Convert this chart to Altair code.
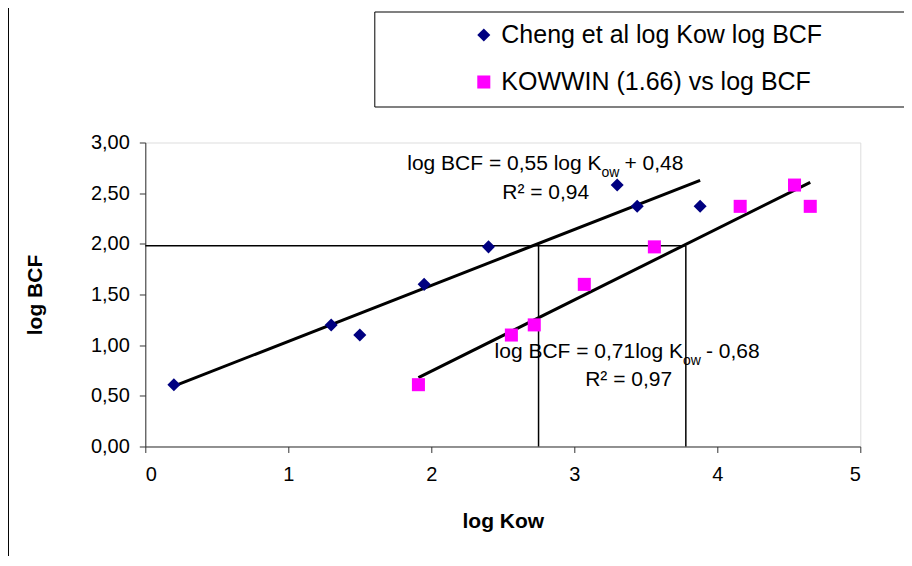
import altair as alt
import pandas as pd

# ---- data ----
series_names = ["Cheng et al log Kow log BCF", "KOWWIN (1.66) vs log BCF"]
series_colors = ["#000080", "#FF00FF"]
series_shapes = ["diamond", "square"]

cheng_kow = [0.20, 1.30, 1.50, 1.95, 2.40, 3.30, 3.44, 3.88]
cheng_bcf = [0.61, 1.20, 1.10, 1.60, 1.97, 2.58, 2.37, 2.37]
kowwin_kow = [1.91, 2.56, 2.72, 3.07, 3.56, 4.16, 4.54, 4.65]
kowwin_bcf = [0.61, 1.10, 1.20, 1.60, 1.97, 2.37, 2.58, 2.37]

guide_bcf = 1.98
guide_kow = [2.75, 3.78]

x_ticks = [0, 1, 2, 3, 4, 5]
y_ticks = [0, 0.5, 1.0, 1.5, 2.0, 2.5, 3.0]

eq_main = ["log BCF = 0,55 log K", "log BCF = 0,71log K"]
eq_tail = ["+ 0,48", "- 0,68"]
eq_r2 = ["R\u00b2 = 0,94", "R\u00b2 = 0,97"]
eq_anchor_kow = [3.19, 3.76]
eq_anchor_bcf = [2.79, 0.935]
r2_kow = [2.80, 3.38]
r2_bcf = [2.50, 0.655]

FONT = "Liberation Sans"

pts = pd.DataFrame({
    "kow": cheng_kow + kowwin_kow,
    "bcf": cheng_bcf + kowwin_bcf,
    "series": [series_names[0]] * len(cheng_kow) + [series_names[1]] * len(kowwin_kow),
})

xscale = alt.Scale(domain=[0, 5], nice=False, zero=False)
yscale = alt.Scale(domain=[0, 3], nice=False, zero=False)

x_axis = alt.Axis(values=x_ticks, format="d", grid=False, title="log Kow", titleFont=FONT,
                  titleFontSize=21, titleFontWeight="bold", titlePadding=26,
                  labelFont=FONT, labelFontSize=20, labelPadding=12,
                  tickSize=6, domainColor="#333333", tickColor="#333333",
                  labelColor="black", titleColor="black")
y_axis = alt.Axis(values=y_ticks, grid=False, title="log BCF", titleFont=FONT,
                  titleFontSize=21, titleFontWeight="bold", titlePadding=45,
                  labelFont=FONT, labelFontSize=20, labelPadding=10,
                  labelExpr="replace(format(datum.value, '.2f'), '.', ',')",
                  tickSize=6, domainColor="#333333", tickColor="#333333",
                  labelColor="black", titleColor="black")

legend = alt.Legend(title=None, orient="none", legendX=326, legendY=-120,
                    labelFont=FONT, labelFontSize=25, labelColor="black", labelLimit=600,
                    symbolSize=170, symbolStrokeWidth=0, rowPadding=21,
                    labelOffset=5, padding=0)

points = alt.Chart(pts).mark_point(filled=True, size=170, opacity=1).encode(
    x=alt.X("kow:Q", scale=xscale, axis=x_axis),
    y=alt.Y("bcf:Q", scale=yscale, axis=y_axis),
    color=alt.Color("series:N", scale=alt.Scale(domain=series_names, range=series_colors), legend=legend),
    shape=alt.Shape("series:N", scale=alt.Scale(domain=series_names, range=series_shapes), legend=legend),
)

fits = alt.Chart(pts).transform_regression(
    "kow", "bcf", groupby=["series"]
).mark_line(color="black", strokeWidth=3).encode(
    x="kow:Q", y="bcf:Q", detail="series:N"
)

hguide = alt.Chart(pd.DataFrame({"x": [0], "x2": [guide_kow[1]], "y": [guide_bcf]})).mark_rule(
    color="black", strokeWidth=1.5).encode(x="x:Q", x2="x2:Q", y="y:Q")
vguide = alt.Chart(pd.DataFrame({"x": guide_kow, "y": [0, 0], "y2": [guide_bcf, guide_bcf]})).mark_rule(
    color="black", strokeWidth=1.5).encode(x="x:Q", y="y:Q", y2="y2:Q")

eq = pd.DataFrame({"kow": eq_anchor_kow, "bcf": eq_anchor_bcf, "main": eq_main, "tail": eq_tail})
eq_main_t = alt.Chart(eq).mark_text(font=FONT, fontSize=21, align="right", baseline="middle").encode(
    x="kow:Q", y="bcf:Q", text="main:N")
eq_sub_t = alt.Chart(eq).mark_text(font=FONT, fontSize=14, align="left", baseline="middle", dy=9, dx=0).encode(
    x="kow:Q", y="bcf:Q", text=alt.value("ow"))
eq_tail_t = alt.Chart(eq).mark_text(font=FONT, fontSize=21, align="left", baseline="middle", dx=23).encode(
    x="kow:Q", y="bcf:Q", text="tail:N")
r2 = pd.DataFrame({"kow": r2_kow, "bcf": r2_bcf, "t": eq_r2})
r2_t = alt.Chart(r2).mark_text(font=FONT, fontSize=21, align="center", baseline="middle").encode(
    x="kow:Q", y="bcf:Q", text="t:N")

legend_box = alt.Chart(pd.DataFrame({"k": [0]})).mark_rect(
    fillOpacity=0, stroke="black", strokeWidth=1).encode(
    x=alt.value(229.5), x2=alt.value(900), y=alt.value(-130.5), y2=alt.value(-35.5))
frame_left = alt.Chart(pd.DataFrame({"k": [0]})).mark_rule(color="black", strokeWidth=1).encode(
    x=alt.value(-136.8), y=alt.value(-140), y2=alt.value(420))

chart = alt.layer(legend_box, frame_left, hguide, vguide, fits, points,
                  eq_main_t, eq_sub_t, eq_tail_t, r2_t).properties(
    width=715, height=304,
    autosize=alt.AutoSizeParams(type="none"),
    padding={"left": 137.3, "top": 134.5, "right": 43.5, "bottom": 109.5},
).configure_view(stroke=None).configure(background="white")

chart.save("out.html", embed_options={"renderer": "svg", "actions": False})
